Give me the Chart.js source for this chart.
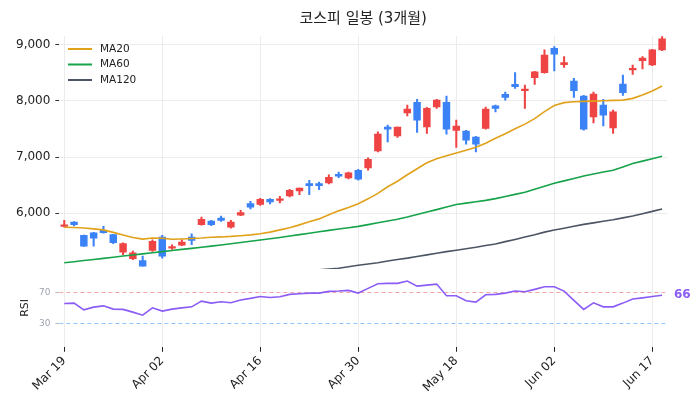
<!DOCTYPE html>
<html>
<head>
<meta charset="utf-8">
<script src="https://cdn.jsdelivr.net/npm/chart.js@4"></script>
<style>
  html, body { margin: 0; padding: 0; background: #fff; }
  #wrap { width: 700px; height: 411px; }
</style>
</head>
<body>
<div id="wrap"><canvas id="kospiChart"></canvas></div>
<script>
// KOSPI daily candles, last 3 months (trading days only)
const dates = [
    'Mar 19', 'Mar 20', 'Mar 23', 'Mar 24', 'Mar 25', 'Mar 26', 'Mar 27', 'Mar 30', 'Mar 31', 'Apr 01',
    'Apr 02', 'Apr 03', 'Apr 06', 'Apr 07', 'Apr 08', 'Apr 09', 'Apr 10', 'Apr 13', 'Apr 14', 'Apr 15',
    'Apr 16', 'Apr 17', 'Apr 20', 'Apr 21', 'Apr 22', 'Apr 23', 'Apr 24', 'Apr 27', 'Apr 28', 'Apr 29',
    'Apr 30', 'May 04', 'May 06', 'May 07', 'May 08', 'May 11', 'May 12', 'May 13', 'May 14', 'May 15',
    'May 18', 'May 19', 'May 20', 'May 21', 'May 22', 'May 26', 'May 27', 'May 28', 'May 29', 'Jun 01',
    'Jun 02', 'Jun 04', 'Jun 05', 'Jun 08', 'Jun 09', 'Jun 10', 'Jun 11', 'Jun 12', 'Jun 15', 'Jun 16',
    'Jun 17', 'Jun 18'
];

const openPx = [
    5763, 5839, 5601, 5649, 5690, 5614, 5302, 5184, 5154, 5333,
    5571, 5374, 5428, 5571, 5794, 5857, 5911, 5750, 5964, 6168,
    6156, 6245, 6227, 6304, 6394, 6526, 6526, 6537, 6692, 6626,
    6764, 6805, 7109, 7533, 7378, 7789, 7975, 7539, 7896, 7975,
    7474, 7462, 7355, 7510, 7914, 8118, 8297, 8183, 8415, 8505,
    8941, 8648, 8356, 8088, 7717, 7927, 7521, 8302, 8553, 8719,
    8642, 8911
];
const highPx = [
    5869, 5850, 5605, 5655, 5762, 5620, 5470, 5320, 5231, 5524,
    5601, 5434, 5524, 5631, 5928, 5870, 5946, 5869, 6048, 6209,
    6262, 6258, 6299, 6422, 6447, 6585, 6555, 6680, 6733, 6733,
    6780, 6984, 7449, 7569, 7533, 7927, 8029, 7886, 8029, 8088,
    7658, 7475, 7370, 7890, 7927, 8159, 8505, 8285, 8530, 8911,
    8970, 8791, 8404, 8100, 8159, 8029, 7837, 8463, 8642, 8791,
    8923, 9149
];
const lowPx = [
    5750, 5770, 5405, 5410, 5640, 5453, 5256, 5166, 5050, 5315,
    5195, 5350, 5417, 5434, 5782, 5774, 5851, 5732, 5952, 6072,
    6138, 6161, 6179, 6286, 6329, 6329, 6419, 6520, 6633, 6608,
    6585, 6764, 7091, 7270, 7349, 7735, 7438, 7420, 7868, 7408,
    7170, 7229, 7091, 7497, 7807, 8016, 8226, 7868, 8297, 8495,
    8535, 8601, 8064, 7480, 7610, 7556, 7420, 8100, 8476, 8571,
    8630, 8898
];
const closePx = [
    5768, 5792, 5410, 5553, 5649, 5470, 5453, 5292, 5052, 5494,
    5231, 5392, 5482, 5512, 5887, 5792, 5869, 5839, 6007, 6107,
    6245, 6197, 6245, 6406, 6447, 6490, 6490, 6639, 6657, 6716,
    6603, 6961, 7408, 7497, 7533, 7855, 7658, 7868, 8016, 7497,
    7551, 7301, 7229, 7855, 7868, 8064, 8254, 8213, 8522, 8821,
    8834, 8684, 8183, 7497, 8124, 7748, 7807, 8147, 8583, 8767,
    8911, 9108
];

const ma20 = [
    5748, 5741, 5733, 5717, 5700, 5655, 5610, 5565, 5535, 5555,
    5550, 5532, 5538, 5547, 5556, 5569, 5574, 5583, 5596, 5610,
    5632, 5660, 5700, 5739, 5789, 5843, 5896, 5968, 6039, 6097,
    6165, 6254, 6352, 6469, 6567, 6683, 6791, 6898, 6970, 7023,
    7073, 7122, 7175, 7247, 7336, 7417, 7506, 7587, 7685, 7810,
    7918, 7971, 7986, 7993, 7998, 8004, 8011, 8016, 8047, 8106,
    8177, 8267
];
const ma60 = [
    5113, 5132, 5152, 5172, 5191, 5211, 5233, 5252, 5272, 5292,
    5311, 5331, 5351, 5370, 5390, 5410, 5429, 5451, 5474, 5496,
    5519, 5542, 5565, 5590, 5615, 5640, 5665, 5691, 5714, 5739,
    5762, 5794, 5826, 5859, 5891, 5928, 5973, 6018, 6061, 6107,
    6152, 6177, 6202, 6227, 6258, 6295, 6333, 6370, 6424, 6478,
    6531, 6574, 6617, 6660, 6696, 6732, 6764, 6823, 6884, 6927,
    6970, 7014
];
// MA120 only shows up inside the price panel from late April
const ma120 = [
    null, null, null, null, null, null, null, null, null, null,
    null, null, null, null, null, null, null, null, null, null,
    null, null, null, null, 4948, 4975, 4987, 5002, 5016, 5043,
    5068, 5091, 5114, 5143, 5170, 5195, 5225, 5254, 5284, 5311,
    5336, 5363, 5390, 5422, 5449, 5490, 5529, 5571, 5612, 5660,
    5696, 5730, 5766, 5798, 5825, 5855, 5882, 5914, 5946, 5986,
    6030, 6072
];
const rsi = [
    55.8, 56.2, 47.5, 51.0, 52.7, 48.5, 48.1, 44.6, 40.7, 50.1,
    45.9, 48.5, 50.1, 51.4, 58.8, 56.2, 57.9, 56.6, 60.1, 62.3,
    64.8, 63.5, 64.3, 67.4, 68.2, 69.1, 69.1, 71.3, 71.7, 72.6,
    69.1, 75.2, 81.1, 81.6, 81.6, 84.6, 78.1, 79.4, 80.7, 65.6,
    65.6, 59.2, 57.5, 66.9, 67.4, 69.1, 71.7, 70.8, 73.9, 77.2,
    77.2, 71.7, 59.7, 48.1, 56.6, 51.4, 51.4, 56.2, 61.4, 63.0,
    64.8, 66.4
];

const priceTicks = [6000, 7000, 8000, 9000];
const rsiTicks = [30, 70];
const rsiLineColors = ['#93c5fd', '#f2a5a5']; // oversold, overbought
const dateTickEvery = 10;

const UP = '#ef4444';
const DOWN = '#3b82f6';
const candleColor = i => (closePx[i] >= openPx[i] ? UP : DOWN);

Chart.defaults.font.family = "'DejaVu Sans', 'Noto Sans CJK KR', sans-serif";

// keep each dataset inside its own panel
const panelClip = {
    id: 'panelClip',
    beforeDatasetDraw(chart, args) {
        const s = chart.scales[args.meta.yAxisID];
        const a = chart.chartArea;
        chart.ctx.save();
        chart.ctx.beginPath();
        chart.ctx.rect(a.left, s.top, a.right - a.left, s.bottom - s.top);
        chart.ctx.clip();
    },
    afterDatasetDraw(chart) {
        chart.ctx.restore();
    }
};

// dashed 30 / 70 guide lines in the RSI panel
const rsiGuides = {
    id: 'rsiGuides',
    beforeDatasetsDraw(chart) {
        const ctx = chart.ctx;
        const a = chart.chartArea;
        const s = chart.scales.rsi;
        ctx.save();
        ctx.lineWidth = 1;
        ctx.setLineDash([4, 3]);
        rsiTicks.forEach((v, k) => {
            const y = Math.round(s.getPixelForValue(v)) + 0.5;
            ctx.strokeStyle = rsiLineColors[k];
            ctx.beginPath();
            ctx.moveTo(a.left, y);
            ctx.lineTo(a.right, y);
            ctx.stroke();
        });
        ctx.restore();
    }
};

// legend inside the price panel + last RSI value on the right
const extras = {
    id: 'extras',
    afterDraw(chart) {
        const ctx = chart.ctx;
        const area = chart.chartArea;
        ctx.save();
        ctx.font = "10.5px 'DejaVu Sans'";
        ctx.textBaseline = 'middle';
        chart.data.datasets.filter(d => d.inLegend).forEach((d, k) => {
            const y = 49 + k * 15.5;
            ctx.strokeStyle = d.borderColor;
            ctx.lineWidth = 2;
            ctx.beginPath();
            ctx.moveTo(68, y);
            ctx.lineTo(92, y);
            ctx.stroke();
            ctx.fillStyle = '#222';
            ctx.fillText(d.label, 100, y);
        });
        const last = rsi[rsi.length - 1];
        ctx.font = "bold 12px 'DejaVu Sans'";
        ctx.fillStyle = '#8b5cf6';
        ctx.fillText(Math.floor(last), area.right + 7, chart.scales.rsi.getPixelForValue(last));
        ctx.restore();
    }
};

function createCandleChart() {
    const ctx = document.getElementById('kospiChart').getContext('2d');
    new Chart(ctx, {
        type: 'bar',
        data: {
            labels: dates,
            datasets: [
                {
                    label: 'wick',
                    data: dates.map((d, i) => [lowPx[i], highPx[i]]),
                    backgroundColor: c => candleColor(c.dataIndex),
                    barThickness: 1.4,
                    grouped: false,
                    order: 5
                },
                {
                    label: 'body',
                    data: dates.map((d, i) => [openPx[i], closePx[i]]),
                    backgroundColor: c => candleColor(c.dataIndex),
                    barThickness: 6.8,
                    minBarLength: 1.5,
                    grouped: false,
                    order: 4
                },
                {
                    type: 'line', label: 'MA20', data: ma20, inLegend: true,
                    borderColor: '#e0a11b', borderWidth: 1.6, pointRadius: 0, order: 1
                },
                {
                    type: 'line', label: 'MA60', data: ma60, inLegend: true,
                    borderColor: '#16a34a', borderWidth: 1.6, pointRadius: 0, order: 1
                },
                {
                    type: 'line', label: 'MA120', data: ma120, inLegend: true,
                    borderColor: '#4b5563', borderWidth: 1.6, pointRadius: 0, order: 1
                },
                {
                    type: 'line', label: 'RSI', data: rsi, yAxisID: 'rsi',
                    borderColor: '#8b5cf6', borderWidth: 1.6, pointRadius: 0, order: 1
                }
            ]
        },
        options: {
            responsive: true,
            maintainAspectRatio: false,
            animation: false,
            layout: { padding: { left: 11, right: 33, top: 0, bottom: 14 } },
            plugins: {
                legend: { display: false },
                tooltip: { enabled: false },
                title: {
                    display: true,
                    text: '코스피 일봉 (3개월)',
                    color: '#222',
                    fullSize: false,
                    font: { size: 15, weight: 'normal' },
                    padding: { top: 10, bottom: 8 }
                }
            },
            scales: {
                x: {
                    offset: true,
                    grid: { offset: false, color: '#ececec', tickColor: '#222', tickLength: 5 },
                    border: { display: false },
                    afterBuildTicks: s => {
                        s.ticks = s.ticks.filter(t => t.value % dateTickEvery === 0);
                    },
                    ticks: { autoSkip: false, maxRotation: 45, minRotation: 45, color: '#222', font: { size: 12 }, padding: 2 }
                },
                y: {
                    position: 'left',
                    stack: 'panels',
                    stackWeight: 3,
                    weight: 1,
                    min: 5000,
                    max: 9160,
                    afterBuildTicks: s => { s.ticks = priceTicks.map(v => ({ value: v })); },
                    grid: { color: '#ececec', tickColor: '#333', tickLength: 4 },
                    border: { display: false },
                    ticks: { color: '#222', font: { size: 12 }, padding: 5, callback: v => v.toLocaleString('en-US') }
                },
                rsi: {
                    position: 'left',
                    stack: 'panels',
                    stackWeight: 1,
                    weight: 0,
                    min: 0,
                    max: 100,
                    afterBuildTicks: s => { s.ticks = rsiTicks.map(v => ({ value: v })); },
                    grid: { drawOnChartArea: false, tickColor: '#bbb', tickLength: 4 },
                    border: { display: false },
                    title: { display: true, text: 'RSI', color: '#222', font: { size: 11 }, padding: { top: 8, bottom: 0 } },
                    ticks: { color: '#9ca3af', font: { size: 9 }, padding: 5 }
                }
            }
        },
        plugins: [panelClip, rsiGuides, extras]
    });
}

window.onload = function () {
    createCandleChart();
};
</script>
</body>
</html>
